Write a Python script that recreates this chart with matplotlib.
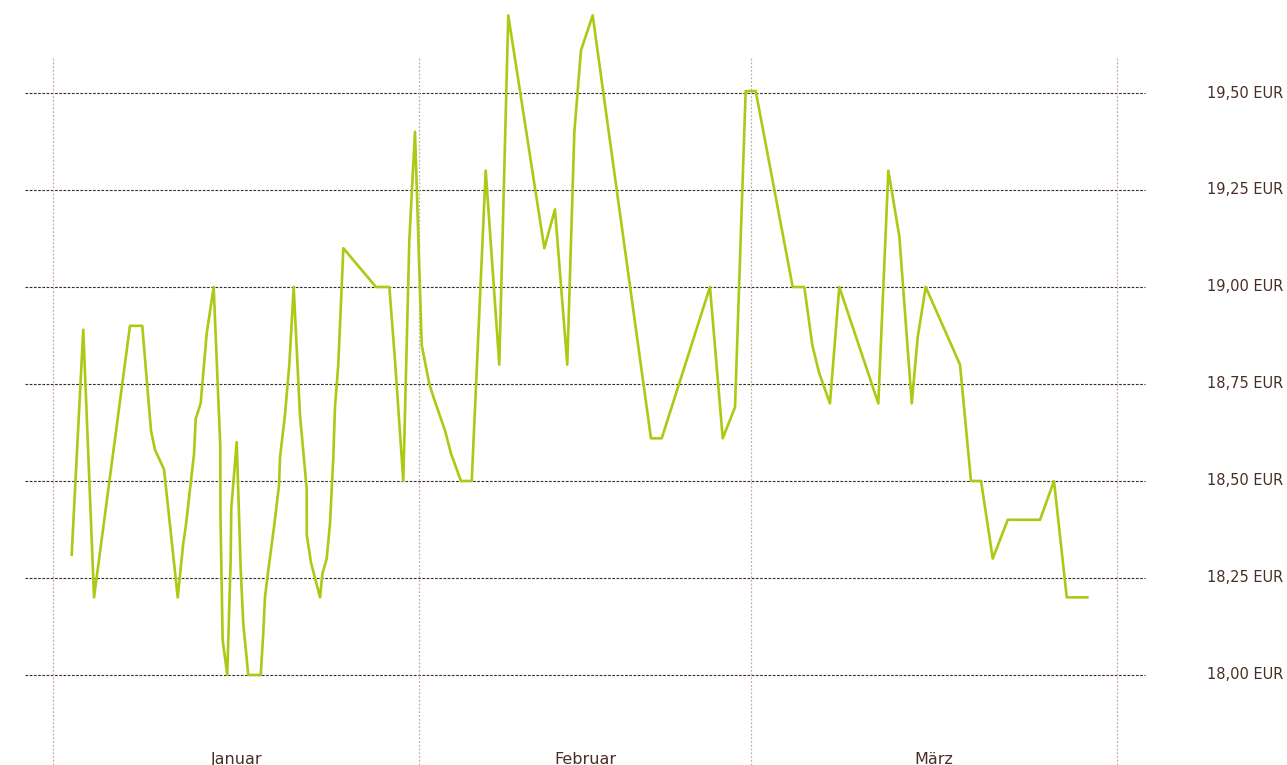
import matplotlib.pyplot as plt
import matplotlib.transforms as mtransforms

# Days since 1 January (intraday quotes) and price in EUR
days = [1.58, 2.56, 3.47, 6.51, 7.55, 8.29, 8.63, 9.39, 10.55, 11.02,
        11.22, 11.93, 12.07, 12.49, 13.00, 13.59, 14.15, 14.16, 14.35, 14.74,
        15.03, 15.08, 15.54, 15.88, 16.10, 16.52, 17.57, 17.79, 17.93, 18.21,
        18.69, 19.12, 19.20, 19.62, 19.99, 20.36, 20.89, 21.46, 21.47, 21.82,
        22.59, 22.78, 23.15, 23.43, 23.71, 23.85, 24.13, 24.56, 27.32, 28.45,
        28.93, 29.63, 30.14, 30.62, 31.19, 31.83, 32.25, 33.16, 33.67, 34.51,
        35.42, 36.60, 37.75, 38.51, 41.56, 42.46, 43.50, 44.10, 44.66, 45.65,
        50.58, 51.49, 55.57, 56.65, 57.69, 58.59, 59.44, 62.57, 63.55, 64.23,
        64.79, 65.72, 66.51, 69.81, 70.66, 71.59, 72.64, 73.14, 73.82, 76.72,
        77.65, 78.50, 79.49, 80.76, 83.49, 84.67, 85.75, 87.49]
prices = [18.31, 18.89, 18.20, 18.90, 18.90, 18.63, 18.58, 18.53, 18.20, 18.34,
          18.38, 18.57, 18.66, 18.70, 18.88, 19.00, 18.59, 18.42, 18.09, 18.00,
          18.30, 18.43, 18.60, 18.27, 18.13, 18.00, 18.00, 18.11, 18.20, 18.27,
          18.38, 18.49, 18.56, 18.67, 18.80, 19.00, 18.67, 18.48, 18.36, 18.29,
          18.20, 18.26, 18.30, 18.39, 18.56, 18.69, 18.80, 19.10, 19.00, 19.00,
          18.81, 18.50, 19.12, 19.40, 18.85, 18.75, 18.71, 18.63, 18.57, 18.50,
          18.50, 19.30, 18.80, 19.70, 19.10, 19.20, 18.80, 19.40, 19.61, 19.70,
          18.61, 18.61, 19.00, 18.61, 18.69, 19.505, 19.505, 19.00, 19.00, 18.85,
          18.78, 18.70, 19.00, 18.70, 19.30, 19.13, 18.70, 18.87, 19.00, 18.80,
          18.50, 18.50, 18.30, 18.40, 18.40, 18.50, 18.20, 18.20]

month_starts = [0, 31, 59, 90]
month_names = ["Januar", "Februar", "März"]
levels = [18.00, 18.25, 18.50, 18.75, 19.00, 19.25, 19.50]
level_labels = ["18,00 EUR", "18,25 EUR", "18,50 EUR", "18,75 EUR",
                "19,00 EUR", "19,25 EUR", "19,50 EUR"]

text_color = "#4a2e25"
line_color = "#a9cb14"

fig = plt.figure(figsize=(12.87, 7.65), dpi=100)
ax = fig.add_axes([0, 0, 1, 1])
ax.set_xlim(-4.483, 104.38)
ax.set_ylim(17.768, 19.7397)
ax.axis("off")

# horizontal grid (dark, dense dots)
ax.hlines(levels, -2.37, 92.37, colors="#3e2a22", linewidth=0.8,
          linestyles=(0, (2.4, 1.4)), zorder=1)

# month boundaries (light dotted)
for d in month_starts:
    ax.axvline(d, ymin=0, ymax=0.925, color="#c4aca5", linewidth=0.9,
               linestyle=(0, (1.5, 1.5)), zorder=1)

ax.plot(days, prices, color=line_color, linewidth=1.9, zorder=3)

# y labels at right edge
tr = mtransforms.blended_transform_factory(ax.transAxes, ax.transData)
for v, lab in zip(levels, level_labels):
    ax.text(0.9969, v, lab, transform=tr, ha="right", va="center",
            fontsize=10.5, color=text_color)

# month labels at bottom
tr2 = mtransforms.blended_transform_factory(ax.transData, ax.transAxes)
for i, name in enumerate(month_names):
    mid = (month_starts[i] + month_starts[i + 1]) / 2
    ax.text(mid, 0.0012, name, transform=tr2, ha="center", va="baseline",
            fontsize=11.5, color=text_color)

fig.savefig("out.png", dpi=100)
